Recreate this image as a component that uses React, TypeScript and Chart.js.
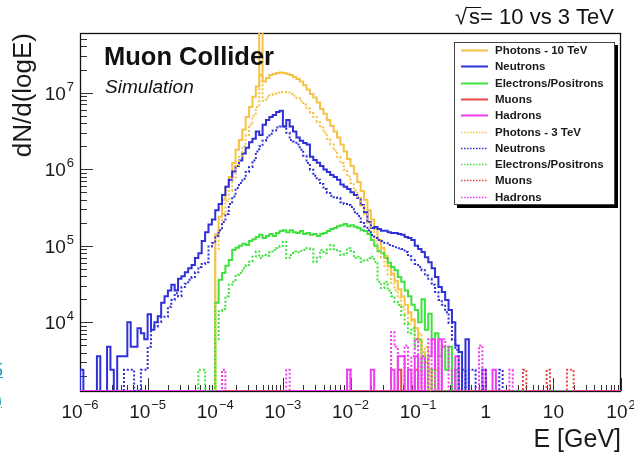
import { useEffect, useRef } from "react";
import { Chart, registerables } from "chart.js";

Chart.register(...registerables);

// Binning: log10(E/GeV) from -6 to 2 in steps of 0.05
const LOG_E_MIN = -6;
const BIN_WIDTH = 0.05;
const N_BINS = 160;

// Axis ranges
const Y_MIN = 1270;
const Y_MAX = 6.0e7;
const X_DECADES = [-6, -5, -4, -3, -2, -1, 0, 1, 2];
const Y_DECADES = [4, 5, 6, 7];

// ---- 10 TeV (solid) ----
const photons10Start = 40;
const photons10 = [
  1.4e5, 2.4e5, 4.0e5, 5.9e5, 7.9e5, 1.2e6, 1.8e6, 2.4e6, 3.3e6, 4.8e6,
  6.5e6, 8.8e6, 1.2e7, 1.5e8, 1.4e7, 1.55e7, 1.7e7, 1.75e7, 1.8e7, 1.83e7,
  1.8e7, 1.75e7, 1.7e7, 1.6e7, 1.5e7, 1.4e7, 1.25e7, 1.1e7, 9.6e6, 8.6e6,
  7.4e6, 6.1e6, 5.3e6, 4.4e6, 3.7e6, 3.1e6, 2.6e6, 2.1e6, 1.7e6, 1.36e6,
  1.1e6, 8.7e5, 6.8e5, 5.2e5, 4.0e5, 2.9e5, 2.2e5, 1.66e5, 1.2e5, 9.4e4,
  7.4e4, 5.4e4, 4.3e4, 3.5e4, 2.7e4, 2.2e4, 1.7e4, 1.36e4, 1.07e4, 8.4e3,
  5.9e3, 4.1e3, 3.0e3, 2.4e3, 0, 2.4e3,
];

const neutrons10Start = 0;
const neutrons10 = [
  2.4e3, 0, 0, 0, 0, 3.6e3, 0, 0, 4.8e3, 2.4e3,
  0, 3.6e3, 3.6e3, 3.6e3, 1.0e4, 4.8e3, 4.8e3, 8.4e3, 7.2e3, 6.0e3,
  1.28e4, 8.0e3, 1.0e4, 1.2e4, 1.8e4, 2.2e4, 2.6e4, 3.1e4, 2.6e4, 3.7e4,
  4.0e4, 4.5e4, 5.1e4, 5.6e4, 6.9e4, 8.0e4, 1.15e5, 1.5e5, 1.9e5, 2.2e5,
  2.9e5, 3.5e5, 4.6e5, 5.9e5, 7.3e5, 9.3e5, 1.1e6, 1.3e6, 1.6e6, 1.9e6,
  2.25e6, 2.5e6, 3.1e6, 2.8e6, 3.8e6, 4.4e6, 4.8e6, 5.1e6, 5.6e6, 5.8e6,
  3.6e6, 4.4e6, 3.6e6, 3.1e6, 2.6e6, 2.35e6, 2.2e6, 2.1e6, 1.45e6, 1.32e6,
  1.21e6, 1.1e6, 9.9e5, 9.2e5, 8.4e5, 7.9e5, 7.3e5, 6.3e5, 5.9e5, 5.5e5,
  5.0e5, 4.6e5, 4.2e5, 3.4e5, 2.75e5, 2.05e5, 1.7e5, 1.76e5, 1.65e5, 1.57e5,
  1.57e5, 1.5e5, 1.47e5, 1.47e5, 1.43e5, 1.39e5, 1.3e5, 1.26e5, 1.19e5, 1.0e5,
  9.1e4, 8.3e4, 7.1e4, 6.1e4, 5.1e4, 3.9e4, 2.9e4, 2.5e4, 1.96e4, 1.45e4,
  1.0e4, 5.0e3, 4.1e3, 0, 6.0e3,
];

const electrons10Start = 40;
const electrons10 = [
  1.8e4, 3.6e4, 4.4e4, 5.5e4, 6.5e4, 8.8e4, 9.4e4, 1.0e5, 1.06e5, 1.02e5,
  1.15e5, 1.22e5, 1.3e5, 1.39e5, 1.26e5, 1.34e5, 1.43e5, 1.34e5, 1.47e5, 1.56e5,
  1.6e5, 1.5e5, 1.6e5, 1.5e5, 1.47e5, 1.56e5, 1.43e5, 1.47e5, 1.39e5, 1.43e5,
  1.34e5, 1.43e5, 1.47e5, 1.56e5, 1.65e5, 1.7e5, 1.8e5, 1.86e5, 1.92e5, 1.8e5,
  1.86e5, 1.77e5, 1.7e5, 1.6e5, 1.56e5, 1.43e5, 1.19e5, 1.0e5, 8.5e4, 8.0e4,
  6.9e4, 6.0e4, 5.3e4, 4.8e4, 3.9e4, 3.4e4, 2.6e4, 2.2e4, 1.7e4, 1.45e4,
  1.0e4, 2.0e4, 8.0e3, 1.3e4, 6.0e3, 7.2e3, 3.6e3, 4.8e3, 2.4e3, 4.8e3,
  0, 2.4e3,
];

const muons10Bins = [94, 99];
const muons10 = [2.4e3, 2.4e3];

const hadrons10Bins = [79, 86, 92, 94, 95, 97, 99, 101, 103, 104, 106, 111, 119, 122];
const hadrons10 = [2.4e3, 2.4e3, 2.4e3, 3.6e3, 3.6e3, 2.4e3, 3.6e3, 3.6e3, 3.6e3, 6.0e3, 6.0e3, 3.6e3, 2.4e3, 2.4e3];

// ---- 3 TeV (dotted) ----
const photons3Start = 40;
const photons3 = [
  9.0e4, 1.6e5, 2.6e5, 3.8e5, 5.2e5, 7.5e5, 1.1e6, 1.5e6, 2.0e6, 2.8e6,
  3.8e6, 5.0e6, 6.5e6, 1.7e7, 7.8e6, 8.6e6, 9.3e6, 9.7e6, 1.0e7, 1.02e7,
  1.02e7, 1.0e7, 9.6e6, 9.1e6, 8.5e6, 7.8e6, 7.0e6, 6.2e6, 5.4e6, 4.8e6,
  4.1e6, 3.5e6, 3.0e6, 2.5e6, 2.1e6, 1.75e6, 1.45e6, 1.2e6, 9.8e5, 8.0e5,
  6.6e5, 5.3e5, 4.2e5, 3.3e5, 2.6e5, 2.0e5, 1.55e5, 1.2e5, 9.0e4, 7.0e4,
  5.5e4, 4.2e4, 3.3e4, 2.6e4, 2.1e4, 1.6e4, 1.3e4, 9.6e3, 1.1e4, 6.0e3,
  7.2e3, 3.6e3, 4.8e3, 0, 2.4e3,
];

const neutrons3Start = 13;
const neutrons3 = [
  2.4e3, 2.4e3, 2.4e3, 0, 0, 2.4e3, 2.4e3, 4.8e3, 8.8e3, 8.8e3,
  1.0e4, 1.18e4, 1.18e4, 1.6e4, 1.96e4, 2.4e4, 2.2e4, 2.9e4, 3.2e4, 3.6e4,
  3.9e4, 4.5e4, 5.3e4, 5.8e4, 6.1e4, 9.8e4, 1.09e5, 1.35e5, 1.6e5, 2.05e5,
  2.6e5, 3.5e5, 4.4e5, 5.7e5, 6.6e5, 7.5e5, 9.2e5, 1.07e6, 1.3e6, 1.7e6,
  2.0e6, 2.35e6, 2.6e6, 2.9e6, 3.2e6, 3.5e6, 3.6e6, 3.6e6, 3.0e6, 2.4e6,
  2.3e6, 2.1e6, 1.8e6, 1.5e6, 1.2e6, 9.8e5, 8.2e5, 7.3e5, 6.4e5, 5.5e5,
  4.9e5, 4.5e5, 4.3e5, 4.2e5, 3.7e5, 3.5e5, 3.4e5, 3.2e5, 2.75e5, 2.45e5,
  2.05e5, 1.8e5, 1.6e5, 1.38e5, 1.26e5, 1.19e5, 1.15e5, 1.09e5, 1.02e5, 9.9e4,
  9.6e4, 9.3e4, 9.1e4, 8.3e4, 7.3e4, 6.5e4, 5.8e4, 5.3e4, 4.8e4, 4.1e4,
  3.7e4, 3.1e4, 2.5e4, 1.96e4, 1.7e4, 1.36e4, 9.8e3, 5.9e3, 4.4e3, 0,
  2.4e3, 0, 2.4e3, 2.4e3, 0, 0, 2.4e3, 0, 0, 0,
  0, 2.4e3,
];

const electrons3Start = 35;
const electrons3 = [
  2.4e3, 2.4e3, 0, 0, 0, 6.0e3, 1.4e4, 1.5e4, 2.2e4, 3.1e4,
  3.4e4, 4.2e4, 4.4e4, 5.1e4, 5.6e4, 6.2e4, 7.2e4, 8.4e4, 6.9e4, 7.6e4,
  7.4e4, 8.4e4, 8.8e4, 9.3e4, 1.0e5, 1.13e5, 6.9e4, 7.6e4, 8.4e4, 8.2e4,
  8.6e4, 8.8e4, 9.3e4, 9.0e4, 6.2e4, 7.0e4, 8.8e4, 8.0e4, 9.0e4, 1.02e5,
  9.0e4, 8.4e4, 7.6e4, 8.0e4, 9.3e4, 8.6e4, 6.9e4, 7.2e4, 6.2e4, 6.4e4,
  6.9e4, 7.2e4, 6.2e4, 3.4e4, 2.8e4, 3.4e4, 2.6e4, 2.2e4, 1.86e4, 1.68e4,
  1.25e4, 9.6e3, 7.2e3, 8.4e3, 4.8e3, 6.0e3, 2.4e3, 3.6e3, 0, 2.4e3,
];

const muons3Bins = [131, 138, 144, 145];
const muons3 = [2.4e3, 2.4e3, 2.4e3, 2.4e3];

const hadrons3Bins = [42, 61, 79, 92, 93, 96, 98, 99, 101, 103, 105, 107, 108, 110, 118, 127];
const hadrons3 = [2.4e3, 2.4e3, 2.4e3, 7.5e3, 4.8e3, 5.0e3, 3.6e3, 6.0e3, 3.6e3, 6.0e3, 3.6e3, 6.0e3, 4.8e3, 2.4e3, 5.0e3, 2.4e3];

const COLORS = {
  photons: "#f5c246",
  neutrons: "#3030d8",
  electrons: "#3ee23e",
  muons: "#e84545",
  hadrons: "#f03cf0",
};

const FONT = "'Liberation Sans', Arial, Helvetica, sans-serif";

function fromRange(start: number, values: number[]): number[] {
  const out = new Array(N_BINS).fill(0);
  values.forEach((v, i) => (out[start + i] = v));
  return out;
}

function fromSparse(bins: number[], values: number[]): number[] {
  const out = new Array(N_BINS).fill(0);
  bins.forEach((b, i) => (out[b] = values[i]));
  return out;
}

const edge = (k: number) => Math.pow(10, LOG_E_MIN + k * BIN_WIDTH);

// Outline of a histogram: empty bins sit on the lower edge of the frame.
function histogramPoints(counts: number[]) {
  const pts = [{ x: edge(0), y: Y_MIN }];
  counts.forEach((c, k) => pts.push({ x: edge(k), y: c > 0 ? c : Y_MIN }));
  pts.push({ x: edge(N_BINS), y: Y_MIN });
  return pts;
}

const SERIES = [
  { label: "Photons - 10 TeV", color: COLORS.photons, dotted: false, counts: fromRange(photons10Start, photons10) },
  { label: "Neutrons", color: COLORS.neutrons, dotted: false, counts: fromRange(neutrons10Start, neutrons10) },
  { label: "Electrons/Positrons", color: COLORS.electrons, dotted: false, counts: fromRange(electrons10Start, electrons10) },
  { label: "Muons", color: COLORS.muons, dotted: false, counts: fromSparse(muons10Bins, muons10) },
  { label: "Hadrons", color: COLORS.hadrons, dotted: false, counts: fromSparse(hadrons10Bins, hadrons10) },
  { label: "Photons - 3 TeV", color: COLORS.photons, dotted: true, counts: fromRange(photons3Start, photons3) },
  { label: "Neutrons", color: COLORS.neutrons, dotted: true, counts: fromRange(neutrons3Start, neutrons3) },
  { label: "Electrons/Positrons", color: COLORS.electrons, dotted: true, counts: fromRange(electrons3Start, electrons3) },
  { label: "Muons", color: COLORS.muons, dotted: true, counts: fromSparse(muons3Bins, muons3) },
  { label: "Hadrons", color: COLORS.hadrons, dotted: true, counts: fromSparse(hadrons3Bins, hadrons3) },
];

const DOT = [2, 2];

function drawPower(ctx: CanvasRenderingContext2D, exp: number, x: number, baseline: number, align: "center" | "right") {
  const baseFont = `19px ${FONT}`;
  const supFont = `13px ${FONT}`;
  let base = "10";
  let sup = "";
  if (exp === 0) base = "1";
  else if (exp !== 1) sup = exp < 0 ? `\u2212${-exp}` : `${exp}`;
  ctx.font = baseFont;
  const wb = ctx.measureText(base).width;
  ctx.font = supFont;
  const ws = sup ? ctx.measureText(sup).width + 1 : 0;
  const total = wb + ws;
  const left = align === "center" ? x - total / 2 : x - total;
  ctx.textAlign = "left";
  ctx.textBaseline = "alphabetic";
  ctx.font = baseFont;
  ctx.fillText(base, left, baseline);
  if (sup) {
    ctx.font = supFont;
    ctx.fillText(sup, left + wb + 1, baseline - 9);
  }
}

const rootStyle = {
  id: "rootStyle",
  beforeDatasetsDraw(chart: any) {
    const { ctx, chartArea: a, scales } = chart;
    const xs = scales.x;
    const ys = scales.y;
    ctx.save();
    ctx.strokeStyle = "#333";
    ctx.lineWidth = 1;
    ctx.beginPath();
    // x-axis ticks, pointing up into the frame
    for (let e = LOG_E_MIN; e <= 2; e++) {
      for (let m = 1; m <= 9; m++) {
        const v = m * Math.pow(10, e);
        if (v > 100.0001) break;
        const px = Math.round(xs.getPixelForValue(v)) + 0.5;
        const len = m === 1 ? 13 : 6;
        ctx.moveTo(px, a.bottom);
        ctx.lineTo(px, a.bottom - len);
      }
    }
    // y-axis ticks, pointing right into the frame
    for (let e = 3; e <= 7; e++) {
      for (let m = 1; m <= 9; m++) {
        const v = m * Math.pow(10, e);
        if (v < Y_MIN || v > Y_MAX) continue;
        const py = Math.round(ys.getPixelForValue(v)) + 0.5;
        const len = m === 1 ? 13 : 7;
        ctx.moveTo(a.left, py);
        ctx.lineTo(a.left + len, py);
      }
    }
    ctx.stroke();
    ctx.strokeStyle = "#111";
    ctx.lineWidth = 1.3;
    ctx.strokeRect(a.left + 0.5, a.top + 0.5, a.right - a.left - 1, a.bottom - a.top);
    ctx.restore();
  },
  afterDraw(chart: any) {
    const { ctx, chartArea: a, scales } = chart;
    const xs = scales.x;
    const ys = scales.y;
    ctx.save();
    ctx.fillStyle = "#1a1a1a";

    X_DECADES.forEach((e) => drawPower(ctx, e, xs.getPixelForValue(Math.pow(10, e)), 418, "center"));
    Y_DECADES.forEach((e) => drawPower(ctx, e, a.left - 6, ys.getPixelForValue(Math.pow(10, e)) + 7, "right"));

    // axis titles
    ctx.font = `25px ${FONT}`;
    ctx.textAlign = "right";
    ctx.textBaseline = "alphabetic";
    ctx.fillText("E [GeV]", a.right, 447);
    ctx.font = `26px ${FONT}`;
    ctx.save();
    ctx.translate(31, a.top);
    ctx.rotate(-Math.PI / 2);
    ctx.fillText("dN/d(logE)", 0, 0);
    ctx.restore();

    // labels inside the frame
    ctx.fillStyle = "#111";
    ctx.textAlign = "left";
    ctx.font = `bold 25.5px ${FONT}`;
    ctx.fillText("Muon Collider", 104, 65);
    ctx.font = `italic 19px ${FONT}`;
    ctx.fillText("Simulation", 105, 93);

    // centre-of-mass energy, top right
    ctx.font = `22px ${FONT}`;
    const rest = "= 10 vs 3 TeV";
    const wRest = ctx.measureText(rest).width;
    const wS = ctx.measureText("s").width;
    const wRoot = ctx.measureText("\u221A").width + 2;
    const right = 614;
    const x0 = right - wRest - wS - wRoot;
    ctx.fillText("\u221A", x0, 24);
    ctx.fillText("s", x0 + wRoot, 24);
    ctx.fillText(rest, x0 + wRoot + wS, 24);
    ctx.strokeStyle = "#111";
    ctx.lineWidth = 1;
    ctx.beginPath();
    ctx.moveTo(x0 + wRoot - 3, 7.5);
    ctx.lineTo(x0 + wRoot + wS + 1, 7.5);
    ctx.stroke();

    // legend with drop shadow
    const lx = 454, ly = 42, lw = 161, lh = 163;
    ctx.fillStyle = "#000";
    ctx.fillRect(lx + 3, ly + 3, lw, lh);
    ctx.fillStyle = "#fff";
    ctx.fillRect(lx, ly, lw, lh);
    ctx.strokeStyle = "#444";
    ctx.lineWidth = 1;
    ctx.strokeRect(lx + 0.5, ly + 0.5, lw - 1, lh - 1);
    ctx.font = `bold 11.5px ${FONT}`;
    ctx.textBaseline = "middle";
    SERIES.forEach((s, i) => {
      const cy = Math.round(ly + 8 + i * 16.3) + 0.5;
      ctx.strokeStyle = s.color;
      ctx.lineWidth = s.dotted ? 1.5 : 2;
      ctx.setLineDash(s.dotted ? [1.5, 1.5] : []);
      ctx.beginPath();
      ctx.moveTo(461, cy);
      ctx.lineTo(488, cy);
      ctx.stroke();
      ctx.setLineDash([]);
      ctx.fillStyle = "#1a1a1a";
      ctx.fillText(s.label, 495, cy);
    });
    ctx.restore();
  },
};

export default function App() {
  const canvasRef = useRef<HTMLCanvasElement>(null);

  useEffect(() => {
    const canvas = canvasRef.current;
    if (!canvas) return;
    const n = SERIES.length;
    const chart = new Chart(canvas, {
      type: "line",
      data: {
        datasets: SERIES.map((s, i) => ({
          label: s.label,
          data: histogramPoints(s.counts),
          borderColor: s.color,
          borderWidth: 2,
          borderDash: s.dotted ? DOT : [],
          borderJoinStyle: "miter" as const,
          borderCapStyle: "butt" as const,
          stepped: "before" as const,
          pointRadius: 0,
          pointHoverRadius: 0,
          fill: false,
          tension: 0,
          order: n - i,
        })),
      },
      options: {
        animation: false,
        responsive: false,
        devicePixelRatio: 1,
        layout: { padding: { left: 80, top: 33, right: 13, bottom: 63 } },
        plugins: { legend: { display: false }, tooltip: { enabled: false }, title: { display: false } },
        events: [],
        scales: {
          x: { type: "logarithmic", min: 1e-6, max: 1e2, bounds: "data", display: false },
          y: { type: "logarithmic", min: Y_MIN, max: Y_MAX, bounds: "data", display: false },
        },
      },
      plugins: [rootStyle],
    });
    return () => chart.destroy();
  }, []);

  return (
    <div style={{ position: "fixed", left: 0, top: 0, width: 634, height: 454, background: "#fff", overflow: "hidden" }}>
      <canvas ref={canvasRef} width={634} height={454} style={{ display: "block", width: 634, height: 454 }} />
      <span style={{ position: "absolute", left: -7, top: 360, font: `18px ${FONT}`, color: "#1d98b6", textDecoration: "underline" }}>5</span>
      <span style={{ position: "absolute", left: -4, top: 390, font: `18px ${FONT}`, color: "#1d98b6", textDecoration: "underline" }}>)</span>
    </div>
  );
}
